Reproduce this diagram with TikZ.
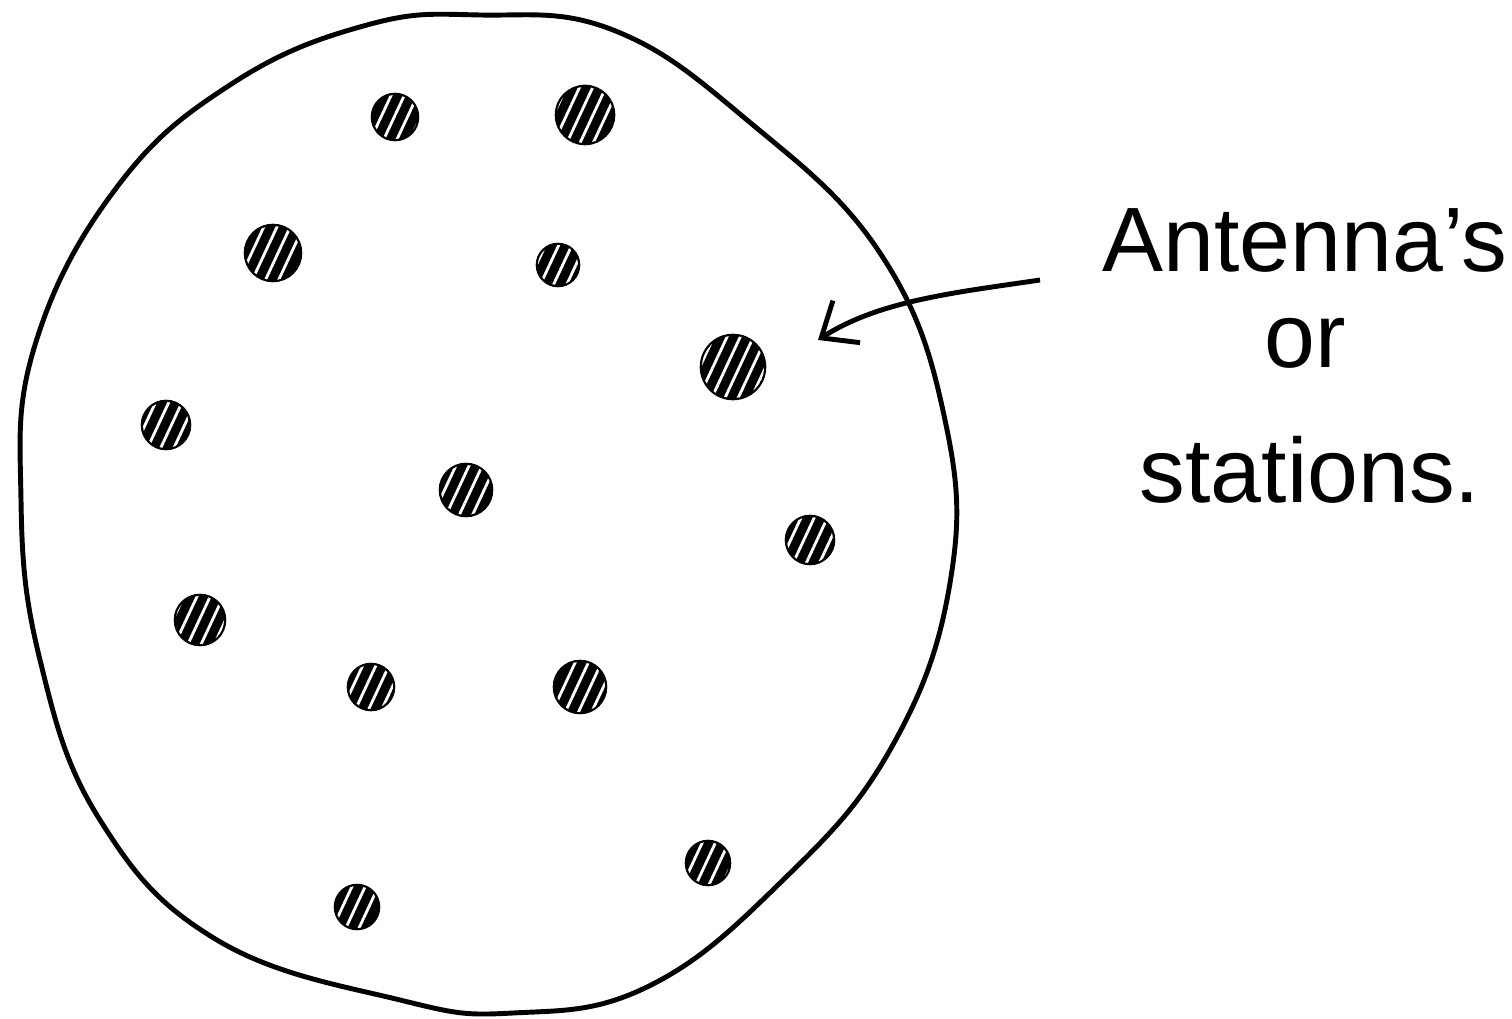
\documentclass[tikz,border=0pt]{standalone}
\usepackage{fontspec}
\setmainfont{Liberation Sans}
\usepackage{tikz}
\usetikzlibrary{arrows.meta,patterns.meta,positioning}

\tikzset{
  station/.style={circle,draw,line width=1.3pt,fill=black,inner sep=0pt,
    postaction={pattern={Lines[angle=65,distance=3.4pt,line width=0.8pt]},pattern color=white}},
  hand/.style={font=\fontsize{26}{32}\selectfont,anchor=base,inner sep=0pt}
}

\begin{document}
\begin{tikzpicture}[x=0.01cm,y=-0.01cm,line width=1.4pt]
\useasboundingbox (0,0) rectangle (1512,1019);
% boundary of the area
\draw[smooth cycle,tension=0.7] plot coordinates {
  (480,15) (613,30) (747,120) (880,253) (945,420) (950,583) (890,750)
  (780,883) (647,987) (513,1013) (400,1000) (217,940) (100,820)
  (40,660) (21,500) (35,345) (117,187) (233,83) (367,25)};
% antennas
\foreach \x/\y/\d [count=\i] in {395/117/0.44, 585/115/0.56, 273/253/0.54,
    558/265/0.40, 733/367/0.62, 166/425/0.46, 466/490/0.50, 810/540/0.46,
    200/620/0.48, 371/687/0.44, 580/687/0.50, 708/863/0.42, 357/907/0.42}
  \node[station,minimum size=\d cm] (s\i) at (\x,\y) {};
% label
\node[hand] (lbl1) at (1305,272) {Antenna's};
\node[hand] (lbl2) at (1305,368) {or};
\node[hand] (lbl3) at (1310,503) {stations.};
\coordinate (tail) at (1040,280);
\coordinate (head) at (818,340);
\draw[-{Straight Barb[length=3mm,width=5mm]}] (tail) .. controls (960,292) and (880,300) .. (head);
\end{tikzpicture}
\end{document}
